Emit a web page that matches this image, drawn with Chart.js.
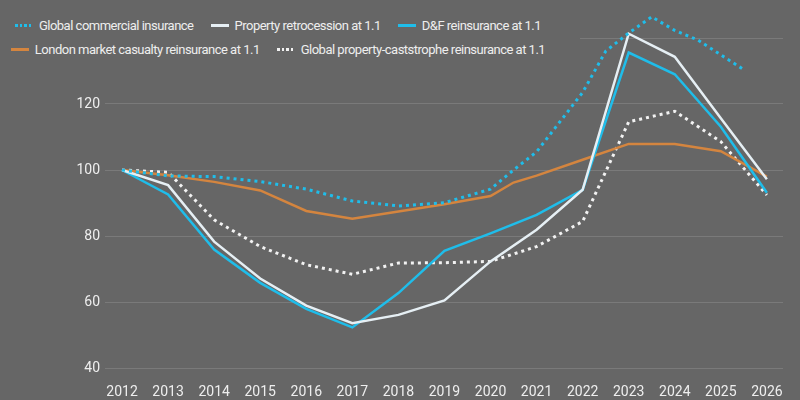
<!DOCTYPE html>
<html lang="en">
<head>
    <meta charset="UTF-8">
    <title>Insurance and reinsurance rate index</title>
    <style>
        body {
            margin: 0;
            background-color: #666666;
            font-family: Roboto, "Noto Sans", Arial, sans-serif;
        }
        .wrap {
            position: relative;
            width: 800px;
            height: 400px;
        }
        #legend {
            position: absolute;
            left: 0;
            top: 0;
            width: 580px;
            height: 62px;
            background-color: #666666;
        }
        #legend .row {
            position: absolute;
            left: 0;
            width: 556px;
            display: flex;
            justify-content: center;
            column-gap: 17px;
        }
        #legend .item {
            display: flex;
            align-items: center;
            color: #eeeeee;
            font-size: 13px;
            letter-spacing: -0.5px;
            line-height: 17px;
            white-space: nowrap;
        }
        #legend .swatch {
            display: inline-block;
            width: 18px;
            height: 3px;
            margin-right: 6px;
        }
    </style>
</head>
<body>
    <div class="wrap">
        <canvas id="chart" width="800" height="400"></canvas>
        <div id="legend"></div>
    </div>

    <script src="https://cdn.jsdelivr.net/npm/chart.js@4"></script>
    <script>
        // index, 2012 = 100
        const yearTicks = [2012, 2013, 2014, 2015, 2016, 2017, 2018, 2019, 2020, 2021, 2022, 2023, 2024, 2025, 2026];

        const commercialYears = [2012, 2013, 2014, 2015, 2016, 2017, 2018, 2019, 2020, 2020.5, 2021, 2022, 2022.5, 2023, 2023.5, 2024, 2024.5, 2025.5];
        const commercialValues = [100, 98.2, 98.0, 96.5, 94.2, 90.6, 89.1, 90.1, 94.2, 100.0, 105.5, 123.5, 136.0, 141.5, 146.4, 142.3, 139.4, 130.4];

        const retroYears = yearTicks;
        const retroValues = [100, 95.4, 78.3, 67.1, 58.9, 53.6, 56.1, 60.5, 72.3, 81.9, 94.0, 141.3, 134.3, 115.7, 97.2];

        const dfYears = yearTicks;
        const dfValues = [100, 92.6, 75.9, 65.8, 57.9, 52.3, 62.7, 75.5, 80.8, 86.4, 94.0, 135.6, 129.0, 113.1, 93.1];

        const londonYears = [2012, 2013, 2014, 2015, 2016, 2017, 2018, 2019, 2020, 2020.5, 2021, 2022, 2023, 2024, 2025, 2026];
        const londonValues = [100, 98.4, 96.4, 93.8, 87.6, 85.2, 87.4, 89.6, 92.1, 96.2, 98.3, 103.1, 107.9, 107.9, 105.7, 98.0];

        const catYears = yearTicks;
        const catValues = [100, 99.3, 84.9, 76.8, 71.3, 68.4, 71.8, 71.9, 72.3, 76.8, 84.4, 114.6, 117.8, 108.6, 92.4];

        // which legend entries go on which line
        const legendRows = [[0, 1, 2], [3, 4]];

        const BLUE = '#1fbdea';
        const WHITE = '#e6eff4';
        const ORANGE = '#d4853f';
        const DOTS = '#f2f2f2';

        function points(xs, ys) {
            return xs.map((x, i) => ({ x: x, y: ys[i] }));
        }

        const series = [
            { label: 'Global commercial insurance', data: points(commercialYears, commercialValues), color: BLUE, dotted: true },
            { label: 'Property retrocession at 1.1', data: points(retroYears, retroValues), color: WHITE, dotted: false },
            { label: 'D&F reinsurance at 1.1', data: points(dfYears, dfValues), color: BLUE, dotted: false },
            { label: 'London market casualty reinsurance at 1.1', data: points(londonYears, londonValues), color: ORANGE, dotted: false },
            { label: 'Global property-caststrophe reinsurance at 1.1', data: points(catYears, catValues), color: DOTS, dotted: true }
        ];

        const datasets = series.map(s => ({
            label: s.label,
            data: s.data,
            borderColor: s.color,
            backgroundColor: s.color,
            borderWidth: s.dotted ? 3 : 2.5,
            borderDash: s.dotted ? [3, 4] : [],
            borderCapStyle: 'butt',
            pointRadius: 0,
            tension: 0,
            fill: false
        }));

        const ctx = document.getElementById('chart').getContext('2d');
        new Chart(ctx, {
            type: 'line',
            data: { datasets: datasets },
            options: {
                responsive: false,
                animation: false,
                layout: { padding: { left: 0, right: 17, top: 5, bottom: 0 } },
                plugins: {
                    legend: { display: false },
                    tooltip: { enabled: false }
                },
                scales: {
                    x: {
                        type: 'linear',
                        min: 2011.63,
                        max: 2026.35,
                        grid: { display: false },
                        border: { display: false },
                        ticks: {
                            stepSize: 1,
                            includeBounds: false,
                            autoSkip: false,
                            maxRotation: 0,
                            padding: 8,
                            color: '#eeeeee',
                            font: { family: 'Roboto', size: 14 },
                            callback: v => String(v)
                        },
                        afterFit: scale => {
                            scale.height = 32;
                            scale.paddingLeft = 0;
                            scale.paddingRight = 0;
                        }
                    },
                    y: {
                        min: 40,
                        max: 150,
                        grid: { color: '#7a7a7a', lineWidth: 1, drawTicks: false },
                        border: { display: false },
                        ticks: {
                            stepSize: 20,
                            includeBounds: false,
                            padding: 5,
                            color: '#eeeeee',
                            font: { family: 'Roboto', size: 14 }
                        },
                        afterFit: scale => {
                            scale.width = 105;
                            scale.paddingTop = 0;
                            scale.paddingBottom = 0;
                        }
                    }
                }
            }
        });

        // html legend, sits over the top of the plot like the original
        const legend = document.getElementById('legend');
        legendRows.forEach((idx, r) => {
            const row = document.createElement('div');
            row.className = 'row';
            row.style.top = (17 + r * 24) + 'px';
            idx.forEach(i => {
                const s = series[i];
                const item = document.createElement('div');
                item.className = 'item';
                const sw = document.createElement('span');
                sw.className = 'swatch';
                if (s.dotted) {
                    sw.style.background = 'repeating-linear-gradient(90deg, ' + s.color + ' 0 2.6px, transparent 2.6px 4.6px)';
                } else {
                    sw.style.background = s.color;
                }
                item.appendChild(sw);
                item.appendChild(document.createTextNode(s.label));
                row.appendChild(item);
            });
            legend.appendChild(row);
        });
    </script>
</body>
</html>
